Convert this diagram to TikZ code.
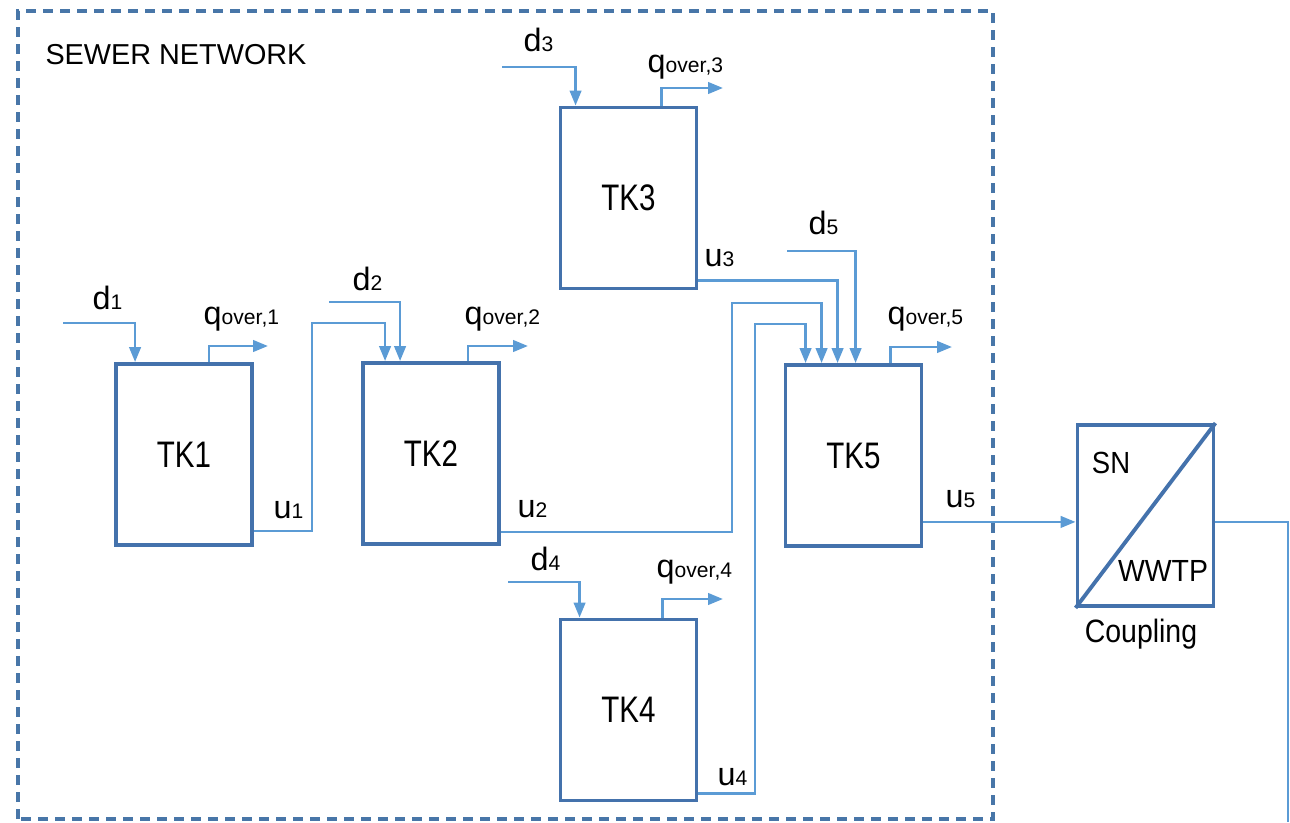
\documentclass[tikz,border=0pt]{standalone}
\usepackage{fontspec}
\setmainfont{Liberation Sans}
\usetikzlibrary{calc,arrows.meta}
\definecolor{tankblue}{RGB}{68,114,172}
\definecolor{flowblue}{RGB}{91,155,213}
\definecolor{frameblue}{RGB}{72,118,168}
\newcommand{\sig}[2]{{\fontsize{9.2}{10}\selectfont #1}{\fontsize{6}{7}\selectfont #2}}

\begin{document}
\begin{tikzpicture}[x=1cm,y=1cm,
  tank/.style={draw=tankblue,line width=1.1pt,minimum width=1.36cm,minimum height=1.81cm,inner sep=0pt,font=\fontsize{10.5}{12}\selectfont},
  flow/.style={draw=flowblue,line width=0.75pt,-{Triangle[length=1.5mm,width=1.15mm]}},
  pipe/.style={draw=flowblue,line width=0.75pt},
  lbl/.style={anchor=base west,inner sep=0pt}]
  \useasboundingbox (0,0) rectangle (12.9,8.22);
  \draw[frameblue,line width=1pt,dash pattern=on 0.1cm off 0.07cm] (0.18,0.03) rectangle (9.93,8.11);
  \node[inner sep=0pt,font=\fontsize{8.2}{10}\selectfont] (title) at (1.76,7.67) {SEWER NETWORK};

  \node[tank] (TK1) at (1.84,3.675) {\scalebox{0.8}[1]{TK1}};
  \node[tank] (TK2) at (4.31,3.685) {\scalebox{0.8}[1]{TK2}};
  \node[tank] (TK3) at (6.285,6.24) {\scalebox{0.8}[1]{TK3}};
  \node[tank] (TK4) at (6.285,1.12) {\scalebox{0.8}[1]{TK4}};
  \node[tank] (TK5) at (8.535,3.665) {\scalebox{0.8}[1]{TK5}};
  \node[tank] (CP) at (11.455,3.065) {};
  \draw[tankblue,line width=1.1pt] (CP.south west) -- (CP.north east);
  \node[inner sep=0pt,font=\fontsize{8.7}{10}\selectfont] (sn) at (11.11,3.59) {\scalebox{0.9}[1]{SN}};
  \node[inner sep=0pt,font=\fontsize{8.7}{10}\selectfont] (wwtp) at (11.63,2.51) {\scalebox{0.93}[1]{WWTP}};
  \node[inner sep=0pt,font=\fontsize{9.2}{10}\selectfont] (cpl) at (11.41,1.88) {\scalebox{0.88}[1]{Coupling}};

  \coordinate (d1in) at (0.63,4.99);
  \coordinate (q1out) at (2.68,4.76);
  \coordinate (u1up) at (3.12,4.99);
  \coordinate (d2in) at (3.29,5.20);
  \coordinate (q2out) at (5.28,4.76);
  \coordinate (d3in) at (5.02,7.55);
  \coordinate (q3out) at (7.23,7.34);
  \coordinate (d4in) at (5.08,2.40);
  \coordinate (q4out) at (7.23,2.23);
  \coordinate (d5in) at (7.87,5.71);
  \coordinate (q5out) at (9.52,4.75);
  \coordinate (u2up) at (7.32,5.19);
  \coordinate (u4up) at (7.55,4.98);
  \coordinate (u5) at ($(TK5.south east)+(0,0.26)$);
  \coordinate (wwtpout) at (12.88,0);

  \draw[flow] (d1in) -| ($(TK1.north west)+(0.21,0)$);
  \draw[flow] ($(TK1.north west)+(0.95,0)$) |- (q1out);
  \draw[flow] ($(TK1.south east)+(0,0.16)$) -| (u1up) -| ($(TK2.north west)+(0.24,0)$);
  \draw[flow] (d2in) -| ($(TK2.north west)+(0.39,0)$);
  \draw[flow] ($(TK2.north west)+(1.07,0)$) |- (q2out);
  \draw[flow] (d3in) -| ($(TK3.north west)+(0.17,0)$);
  \draw[flow] ($(TK3.north west)+(1.03,0)$) |- (q3out);
  \draw[flow] (d4in) -| ($(TK4.north west)+(0.21,0)$);
  \draw[flow] ($(TK4.north west)+(1.04,0)$) |- (q4out);
  \draw[flow] (d5in) -| ($(TK5.north west)+(0.72,0)$);
  \draw[flow] ($(TK5.north west)+(1.07,0)$) |- (q5out);
  \draw[flow] ($(TK2.south east)+(0,0.14)$) -| (u2up) -| ($(TK5.north west)+(0.38,0)$);
  \draw[flow] ($(TK3.south east)+(0,0.10)$) -| ($(TK5.north west)+(0.54,0)$);
  \draw[flow] ($(TK4.south east)+(0,0.09)$) -| (u4up) -| ($(TK5.north west)+(0.22,0)$);
  \draw[flow] (u5) -- (u5 -| CP.west);
  \draw[pipe] (u5 -| CP.east) -| (wwtpout);

  \node[lbl] (d1) at (0.92,5.12) {\sig{d}{1}};
  \node[lbl] (qo1) at (2.03,4.97) {\sig{q}{over,1}};
  \node[lbl] (u1) at (2.73,3.04) {\sig{u}{1}};
  \node[lbl] (d2) at (3.52,5.32) {\sig{d}{2}};
  \node[lbl] (qo2) at (4.64,4.97) {\sig{q}{over,2}};
  \node[lbl] (u2) at (5.17,3.05) {\sig{u}{2}};
  \node[lbl] (d3) at (5.23,7.70) {\sig{d}{3}};
  \node[lbl] (qo3) at (6.47,7.49) {\sig{q}{over,3}};
  \node[lbl] (u3) at (7.04,5.55) {\sig{u}{3}};
  \node[lbl] (d4) at (5.30,2.52) {\sig{d}{4}};
  \node[lbl] (qo4) at (6.56,2.45) {\sig{q}{over,4}};
  \node[lbl] (u4) at (7.17,0.37) {\sig{u}{4}};
  \node[lbl] (d5) at (8.08,5.87) {\sig{d}{5}};
  \node[lbl] (qo5) at (8.87,4.97) {\sig{q}{over,5}};
  \node[lbl] (u5l) at (9.45,3.15) {\sig{u}{5}};
\end{tikzpicture}
\end{document}
